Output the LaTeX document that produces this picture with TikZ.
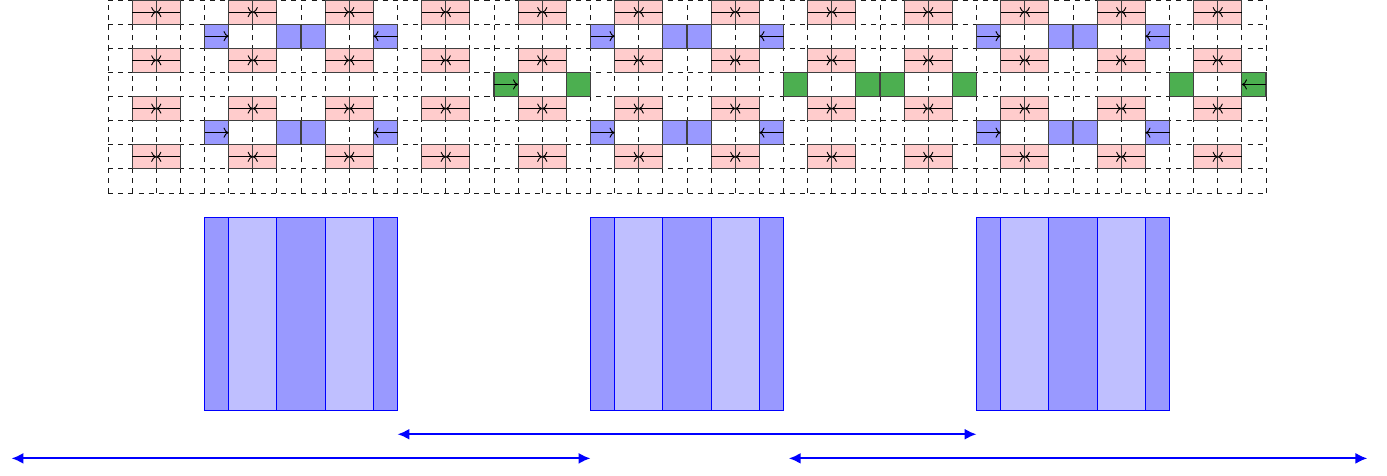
\documentclass[tikz,border=0pt]{standalone}
\usetikzlibrary{arrows.meta}
\definecolor{gr}{RGB}{76,175,80}
\begin{document}
\begin{tikzpicture}[x=0.5cm,y=0.5cm,
  gridline/.style={dashed, line width=0.55pt, black!90},
  cellbox/.style={draw=black!75, line width=0.6pt},
  pinkcell/.style={cellbox, fill=red!20},
  bluecell/.style={cellbox, fill=blue!40},
  greencell/.style={cellbox, fill=gr},
  flow/.style={-{To[length=3pt,width=6pt]}, line width=0.55pt, black},
  blockbox/.style={minimum width=4cm, minimum height=4cm, inner sep=0pt, outer sep=0pt},
  darkstripe/.style={fill=blue!40, draw=blue, line width=0.6pt},
  lightstripe/.style={fill=blue!25, draw=blue, line width=0.6pt},
  spanarrow/.style={{Latex[length=7pt,width=6.5pt]}-{Latex[length=7pt,width=6.5pt]}, blue, line width=1.2pt}]
\useasboundingbox (-4.477,-11.73) rectangle (53.016,8);
% dashed grid
\draw[gridline, step=0.5cm] (0,0) grid (48,8);
% pink pairs
\foreach \a in {1,5,...,45} {
  \foreach \y in {7,5,3,1} {
    \draw[pinkcell] (\a,\y) rectangle ++(1,1);
    \draw[pinkcell] (\a+1,\y) rectangle ++(1,1);
    \draw[flow] (\a,\y+0.5) -- (\a+1,\y+0.5);
    \draw[flow] (\a+2,\y+0.5) -- (\a+1,\y+0.5);
  }
}
% blue cells
\foreach \o in {0,16,32} {
  \foreach \y in {6,2} {
    \draw[bluecell] (\o+4,\y) rectangle ++(1,1);
    \draw[bluecell] (\o+7,\y) rectangle ++(1,1);
    \draw[bluecell] (\o+8,\y) rectangle ++(1,1);
    \draw[bluecell] (\o+11,\y) rectangle ++(1,1);
    \draw[flow] (\o+4,\y+0.5) -- (\o+5,\y+0.5);
    \draw[flow] (\o+12,\y+0.5) -- (\o+11,\y+0.5);
  }
}
% green cells
\foreach \c in {16,19,28,31,32,35,44,47} {
  \draw[greencell] (\c,4) rectangle ++(1,1);
}
\draw[flow] (16,4.5) -- (17,4.5);
\draw[flow] (48,4.5) -- (47,4.5);
% striped blocks
\foreach \o/\n in {0/b1,16/b2,32/b3} {
  \node[blockbox] (\n) at (\o+8,-5) {};
  \draw[darkstripe] (\o+4,-9) rectangle (\o+5,-1);
  \draw[lightstripe] (\o+5,-9) rectangle (\o+7,-1);
  \draw[darkstripe] (\o+7,-9) rectangle (\o+9,-1);
  \draw[lightstripe] (\o+9,-9) rectangle (\o+11,-1);
  \draw[darkstripe] (\o+11,-9) rectangle (\o+12,-1);
}
% span arrows
\coordinate (lvlA) at (0,-10);
\coordinate (lvlB) at (0,-11);
\coordinate (llA) at (-4,-11);
\coordinate (lrA) at (28.22,-11);
\coordinate (lrB) at (52.2,-11);
\draw[spanarrow] (b1.east |- lvlA) -- (b3.west |- lvlA);
\draw[spanarrow] (llA) -- (b2.west |- lvlB);
\draw[spanarrow] (lrA) -- (lrB);
\end{tikzpicture}
\end{document}
